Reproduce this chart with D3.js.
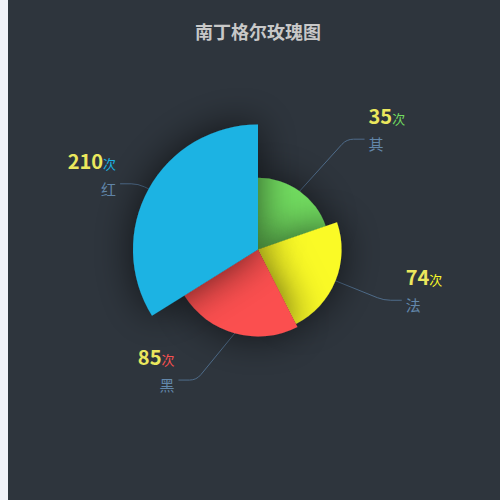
<!DOCTYPE html>
<html>
<head>
<meta charset="utf-8">
<script src="https://cdn.jsdelivr.net/npm/d3@7/dist/d3.min.js"></script>
<style>
	html, body { margin: 0; padding: 0; background: #f0f2f8; overflow: hidden; }
	#chart { position: absolute; left: 8px; top: 0; width: 500px; height: 500px; }
	text { font-family: "Noto Sans CJK SC", "Noto Sans", sans-serif; }
</style>
</head>
<body>
<div id="chart"></div>
<script>
// slices in drawing order, clockwise from 12 o'clock
const names = ['其', '法', '黑', '红'];
const values = [35, 74, 85, 210];
// angular width of each slice in degrees
const angleSpans = [71, 82, 85, 122];
const colors = ['#72dd60', '#fafa28', '#fb5050', '#1bb3e3'];
const title = '南丁格尔玫瑰图';
const unit = '次';

//-----------------------------------------------------
var W = 500, H = 500;
var cx = W / 2, cy = H / 2 - 0.5;

var svg = d3.select('#chart')
	.append('svg')
		.attr('width', W)
		.attr('height', H);

svg.append('rect')
	.attr('width', W)
	.attr('height', H)
	.attr('fill', '#2e353d');

// drop shadow like canvas shadowBlur
var defs = svg.append('defs');
var f = defs.append('filter')
	.attr('id', 'shadow')
	.attr('x', '-100%').attr('y', '-100%')
	.attr('width', '300%').attr('height', '300%');
f.append('feGaussianBlur').attr('in', 'SourceAlpha').attr('stdDeviation', 20).attr('result', 'blur');
f.append('feFlood').attr('flood-color', '#000').attr('flood-opacity', 0.65);
f.append('feComposite').attr('in2', 'blur').attr('operator', 'in').attr('result', 'sh');
var m = f.append('feMerge');
m.append('feMergeNode').attr('in', 'sh');
m.append('feMergeNode').attr('in', 'SourceGraphic');

svg.append('text')
	.attr('x', cx)
	.attr('y', 39)
	.attr('text-anchor', 'middle')
	.attr('font-size', 18)
	.attr('font-weight', 'bold')
	.attr('fill', '#c8c8c8')
	.text(title);

var data = names.map(function(n, i) {
	return { name: n, value: values[i], span: angleSpans[i], color: colors[i] };
});

var rScale = d3.scaleLinear()
	.domain([0, d3.max(values)])
	.range([61, 125]);

var pie = d3.pie()
	.sort(null)
	.value(function(d) { return d.span; });

var arcs = pie(data);

var arc = d3.arc()
	.innerRadius(0)
	.outerRadius(function(d) { return rScale(d.data.value); });

var g = svg.append('g')
	.attr('transform', 'translate(' + cx + ',' + cy + ')');

// label lines + labels first so the slices sit above the line starts
const labelR = 135.5, rA = 134, rB = 147, len2 = 18;

var lines = g.append('g');
var labels = g.append('g');

arcs.forEach(function(d) {
	var mid = (d.startAngle + d.endAngle) / 2;
	var r = rScale(d.data.value);
	var dir = Math.sin(mid) >= 0 ? 1 : -1;
	var x1 = r * Math.sin(mid), y1 = -r * Math.cos(mid);
	var y2 = -labelR * Math.cos(mid);
	var x2 = dir * rA * Math.sqrt(Math.max(0, 1 - y2 * y2 / (rB * rB)));
	var x3 = x2 + dir * len2;

	// slight rounding at the elbow
	var segLen = Math.hypot(x2 - x1, y2 - y1);
	var k = 7 / segLen;
	var p = d3.path();
	p.moveTo(x1, y1);
	p.lineTo(x2 - (x2 - x1) * k, y2 - (y2 - y1) * k);
	p.quadraticCurveTo(x2, y2, x2 + dir * 7, y2);
	p.lineTo(x3, y2);

	lines.append('path')
		.attr('d', p.toString())
		.attr('fill', 'none')
		.attr('stroke', '#4f6c8a')
		.attr('stroke-width', 1);

	var tx = x3 + dir * 4;
	var anchor = dir > 0 ? 'start' : 'end';

	var t = labels.append('text')
		.attr('x', tx)
		.attr('y', y2 - 15)
		.attr('text-anchor', anchor);
	t.append('tspan')
		.attr('font-size', 20)
		.attr('font-weight', 'bold')
		.attr('fill', '#ebe85d')
		.text(d.data.value);
	t.append('tspan')
		.attr('font-size', 13)
		.attr('fill', d.data.color)
		.text(unit);

	labels.append('text')
		.attr('x', tx)
		.attr('y', y2 + 11)
		.attr('text-anchor', anchor)
		.attr('font-size', 15)
		.attr('fill', '#6287aa')
		.text(d.data.name);
});

g.selectAll('.slice')
	.data(arcs)
	.enter()
	.append('path')
		.attr('class', 'slice')
		.attr('d', arc)
		.attr('fill', function(d) { return d.data.color; })
		.attr('filter', 'url(#shadow)');
</script>
</body>
</html>
